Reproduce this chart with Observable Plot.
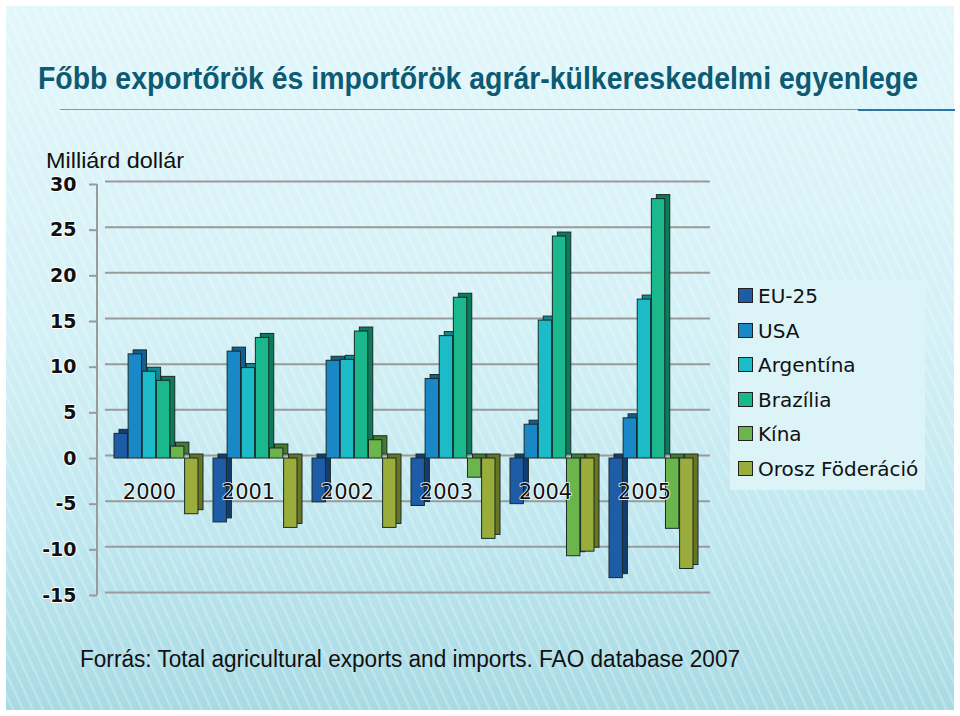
<!DOCTYPE html>
<html><head><meta charset="utf-8">
<script src="https://cdn.jsdelivr.net/npm/d3@7"></script>
<script src="https://cdn.jsdelivr.net/npm/@observablehq/plot@0.6"></script>
<style>
html,body{margin:0;padding:0;}
body{width:960px;height:716px;overflow:hidden;background:#fff;position:relative;font-family:"Liberation Sans",Arial,sans-serif;}
#slide{position:absolute;left:6px;top:6px;width:948px;height:704px;
 background:
  repeating-linear-gradient(65deg, rgba(255,255,255,0.0) 0px, rgba(255,255,255,0.0) 5px, rgba(255,255,255,0.30) 6px, rgba(255,255,255,0.0) 9px),
  linear-gradient(180deg,#e3f7fb 0%,#d4f1f6 45%,#bfe7ef 75%,#a8dae4 100%);}
.fit{position:absolute;white-space:nowrap;transform-origin:0 0;}
#title{left:38px;top:61px;font-family:"Liberation Sans",sans-serif;font-weight:bold;font-size:31px;color:#0d5a73;}
#rule1{position:absolute;left:60px;top:109px;width:800px;height:1px;background:#6a9fb8;}
#rule2{position:absolute;left:858px;top:109px;width:97px;height:2px;background:#2a78a8;}
#unit{left:46px;top:148px;font-family:"Liberation Sans",sans-serif;font-size:22px;color:#111;}
#chart{position:absolute;left:0;top:170px;}
#legend{position:absolute;left:730px;top:280px;width:195px;height:210px;background:#dcf3f8;}
.li{position:absolute;left:8px;font-family:"DejaVu Sans",Verdana,sans-serif;font-size:20px;color:#111;white-space:nowrap;}
.sw{display:inline-block;width:13px;height:13px;border:1px solid #222;margin-right:5px;vertical-align:0px;}
#caption{left:80px;top:646px;font-family:"Liberation Sans",Arial,sans-serif;font-size:23px;color:#111;}
</style></head>
<body>
<div id="slide"></div>
<div id="title" class="fit">Főbb exportőrök és importőrök agrár-külkereskedelmi egyenlege</div>
<div id="rule1"></div><div id="rule2"></div>
<div id="unit" class="fit">Milliárd dollár</div>
<div id="chart"></div>
<div id="legend"></div>
<div id="caption" class="fit">Forrás: Total agricultural exports and imports. FAO database 2007</div>
<script>
const years = ["2000","2001","2002","2003","2004","2005"];
const countries = ["EU-25","USA","Argentína","Brazília","Kína","Orosz Föderáció"];
const colors = ["#1f5ca8","#1a88c6","#1bbcc8","#1ab88c","#6cb54c","#9aac3a"];
const sideColors = ["#123d70","#106090","#10888f","#0d7a5a","#467a30","#687524"];
// values per country, years 2000..2005 (billion USD)
const eu25      = [2.7, -7.0, -4.8, -5.2, -5.0, -13.1];
const usa       = [11.4, 11.7, 10.7, 8.7, 3.7, 4.4];
const argentina = [9.5, 9.9, 10.8, 13.4, 15.1, 17.4];
const brazilia  = [8.5, 13.2, 13.9, 17.6, 24.3, 28.4];
const kina      = [1.3, 1.1, 2.0, -2.1, -10.7, -7.7];
const orosz     = [-6.1, -7.6, -7.6, -8.8, -10.2, -12.1];
const yTicks = [30,25,20,15,10,5,0,-5,-10,-15];

const series = [eu25, usa, argentina, brazilia, kina, orosz];

const W = 720, H = 440, ML = 97, MR = 10, PAD = 0.15;
const step = (W - ML - MR) / (years.length - PAD + 2 * PAD);
const bw = step * (1 - PAD);
const w = bw / countries.length;

const barMarks = [];
series.forEach((vals, i) => {
  const rows = years.map((y, j) => ({year: y, country: countries[i], value: vals[j]}));
  const inset = {insetLeft: i * w, insetRight: (countries.length - 1 - i) * w};
  barMarks.push(Plot.barY(rows, {x: "year", y: "value", fill: sideColors[i], stroke: "#1a2a2a", strokeWidth: 1, dx: 5, dy: -4, ...inset}));
  barMarks.push(Plot.barY(rows, {x: "year", y: "value", fill: colors[i], stroke: "#1a2a2a", strokeWidth: 1, ...inset}));
});

const plot = Plot.plot({
  width: W, height: H,
  marginLeft: ML, marginRight: MR, marginTop: 14, marginBottom: 15,
  style: {background: "transparent", overflow: "visible"},
  x: {domain: years, padding: PAD, axis: null},
  y: {domain: [-15, 30], axis: null},
  marks: [
    Plot.ruleY(yTicks, {stroke: "#9a9a9a", strokeWidth: 2, dy: -3, insetLeft: 8}),
    Plot.axisY({ticks: yTicks, label: null, tickSize: 8, tickPadding: 13, stroke: "#9a9a9a", strokeWidth: 2,
      tickFormat: d => String(d),
      fontSize: 19, fontWeight: 600, fontFamily: "DejaVu Sans, Verdana, sans-serif",
      textStroke: "white", textStrokeWidth: 2, color: "#111"}),
    ...barMarks,
    Plot.text(years, {x: d => d, y: -3.7, text: d => d, dx: -7, fontSize: 21,
      fontFamily: "DejaVu Sans, Verdana, sans-serif", fill: "#111", stroke: "white", strokeWidth: 1.5, paintOrder: "stroke"})
  ]
});
document.getElementById("chart").appendChild(plot);

// vertical axis line along the left edge of the frame
const ys = plot.scale("y");
d3.select(plot).insert("line", ":first-child")
  .attr("x1", ML).attr("x2", ML)
  .attr("y1", ys.apply(yTicks[0])).attr("y2", ys.apply(yTicks[yTicks.length - 1]))
  .attr("stroke", "#9a9a9a").attr("stroke-width", 2);

const leg = document.getElementById("legend");
countries.forEach((c, i) => {
  const el = document.createElement("div");
  el.className = "li";
  el.style.top = (4 + i * 34.6) + "px";
  el.innerHTML = `<span class="sw" style="background:${colors[i]}"></span>${c}`;
  leg.appendChild(el);
});

function fit(id, target) {
  const el = document.getElementById(id);
  const r = el.getBoundingClientRect().width;
  el.style.transform = `scaleX(${target / r})`;
}
fit("title", 880);
fit("unit", 138);
fit("caption", 660);
</script>
</body></html>
